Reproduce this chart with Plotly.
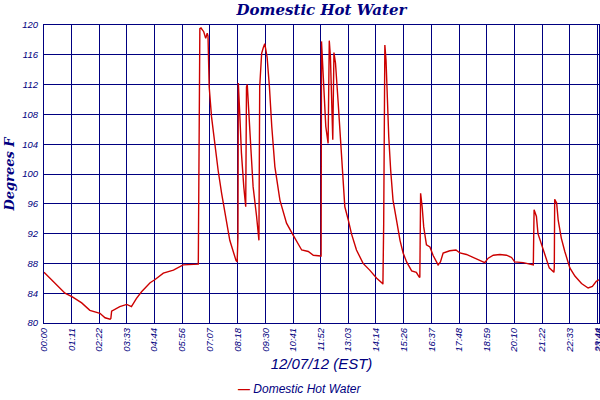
import plotly.graph_objects as go

# Domestic hot water temperature, 12/07/12, minutes after midnight (EST)
minutes = [
    0, 24, 54, 73, 97, 118, 144, 157, 170, 172, 174, 195, 213, 225, 238, 251,
    273, 285, 307, 333, 358, 397, 399, 401, 404, 411, 416, 420, 422, 425, 431,
    440, 448, 457, 466, 478, 494, 497, 499, 500, 504, 508, 514, 519, 521, 523,
    532, 538, 547, 553, 555, 560, 564, 568, 574, 580, 586, 594, 607, 624, 641,
    663, 680, 693, 712, 713, 714, 718, 725, 731, 734, 737, 742, 743, 746, 750,
    757, 763, 768, 774, 783, 791, 804, 821, 838, 856, 871, 872, 874, 877, 880,
    883, 887, 892, 898, 907, 916, 924, 933, 946, 958, 965, 967, 969, 973, 977,
    984, 993, 1001, 1014, 1020, 1027, 1044, 1060, 1070, 1087, 1100, 1117, 1134,
    1143, 1156, 1173, 1190, 1203, 1211, 1233, 1254, 1259, 1261, 1267, 1271,
    1280, 1289, 1300, 1312, 1313, 1314, 1319, 1323, 1331, 1340, 1353, 1366,
    1383, 1400, 1411, 1421, 1428,
]
temps = [
    86.8, 85.5, 84.0, 83.5, 82.7, 81.7, 81.3, 80.7, 80.5, 80.6, 81.6, 82.2,
    82.5, 82.2, 83.3, 84.2, 85.4, 85.8, 86.7, 87.1, 87.8, 87.9, 110.2, 119.5,
    119.6, 119.1, 118.2, 118.9, 118.5, 111.7, 107.7, 103.7, 100.5, 97.4, 94.7,
    91.1, 88.4, 88.2, 91.5, 112.2, 107.7, 102.8, 98.3, 95.6, 111.7, 112.0,
    103.7, 98.3, 94.3, 91.1, 111.7, 116.2, 116.9, 117.5, 115.7, 111.7, 106.4,
    101.0, 96.5, 93.4, 91.8, 89.8, 89.6, 89.1, 89.0, 89.0, 117.8, 113.7, 106.4,
    104.1, 117.9, 115.7, 108.1, 104.6, 116.3, 114.9, 109.5, 105.0, 100.1, 95.6,
    93.8, 92.0, 89.8, 88.0, 87.1, 86.0, 85.3, 85.2, 93.2, 117.3, 115.3, 109.5,
    105.0, 100.5, 96.5, 93.8, 91.1, 89.4, 88.2, 87.0, 86.8, 86.2, 86.1, 97.4,
    95.6, 92.9, 90.5, 90.2, 89.1, 87.8, 88.2, 89.4, 89.7, 89.8, 89.4, 89.2,
    88.9, 88.4, 88.1, 88.7, 89.1, 89.2, 89.1, 88.8, 88.2, 88.1, 87.8, 87.8,
    95.2, 94.3, 92.0, 90.5, 88.9, 87.4, 86.8, 87.5, 96.6, 96.1, 93.8, 91.4,
    89.6, 87.4, 86.3, 85.3, 84.7, 84.9, 85.6, 85.8,
]

x_tick_labels = [
    "00:00", "01:11", "02:22", "03:33", "04:44", "05:56", "07:07", "08:18",
    "09:30", "10:41", "11:52", "13:03", "14:14", "15:26", "16:37", "17:48",
    "18:59", "20:10", "21:22", "22:33", "23:44", "23:48",
]
y_ticks = [80, 84, 88, 92, 96, 100, 104, 108, 112, 116, 120]


def to_minutes(label):
    h, m = label.split(":")
    return int(h) * 60 + int(m)


x_tick_vals = [to_minutes(t) for t in x_tick_labels]

NAVY = "#000080"
RED = "#cc0000"

fig = go.Figure()
fig.add_trace(
    go.Scatter(
        x=minutes,
        y=temps,
        mode="lines",
        line={"color": RED, "width": 1.4},
        name="Domestic Hot Water",
        showlegend=False,
    )
)

fig.update_layout(
    width=600,
    height=400,
    margin={"l": 44, "r": 1, "t": 25, "b": 77},
    paper_bgcolor="white",
    plot_bgcolor="white",
    title={
        "text": "<b><i>Domestic Hot Water</i></b>",
        "x": 0.5,
        "xref": "paper",
        "xanchor": "center",
        "y": 0.975,
        "yanchor": "middle",
        "font": {"family": "DejaVu Serif", "size": 15, "color": NAVY},
    },
    xaxis={
        "range": [0, x_tick_vals[-1]],
        "tickmode": "array",
        "tickvals": x_tick_vals,
        "ticktext": [f"<i>{t}</i>" for t in x_tick_labels],
        "tickangle": -90,
        "tickfont": {"family": "Liberation Sans", "size": 9.5, "color": NAVY},
        "ticklabeloverflow": "allow",
        "showgrid": True,
        "gridcolor": NAVY,
        "gridwidth": 1.2,
        "showline": True,
        "linecolor": NAVY,
        "linewidth": 1.2,
        "mirror": True,
        "zeroline": False,
        "ticks": "",
        "title": {
            "text": "<i>12/07/12 (EST)</i>",
            "font": {"family": "Liberation Sans", "size": 15, "color": NAVY},
            "standoff": 6,
        },
        "automargin": False,
    },
    yaxis={
        "range": [80, 120],
        "tickmode": "array",
        "tickvals": y_ticks,
        "ticktext": [f"<i>{v}</i>" for v in y_ticks],
        "tickfont": {"family": "Liberation Sans", "size": 9.5, "color": NAVY},
        "showgrid": True,
        "gridcolor": NAVY,
        "gridwidth": 1.2,
        "showline": True,
        "linecolor": NAVY,
        "linewidth": 1.2,
        "mirror": True,
        "zeroline": False,
        "ticks": "",
        "ticklabelstandoff": 3,
        "title": {
            "text": "<b><i>Degrees F</i></b>",
            "font": {"family": "DejaVu Serif", "size": 13, "color": NAVY},
            "standoff": 4,
        },
        "automargin": False,
    },
    annotations=[
        {
            "text": f"<span style='color:{RED}'><b>—</b></span> <i>Domestic Hot Water</i>",
            "xref": "paper",
            "yref": "paper",
            "x": 0.461,
            "y": -0.2215,
            "xanchor": "center",
            "yanchor": "middle",
            "showarrow": False,
            "font": {"family": "Liberation Sans", "size": 12, "color": NAVY},
        }
    ],
)

# drop the browser's default body margin so the 600x400 figure fills the window
fig.write_html(
    "out.html",
    config={"displayModeBar": False},
    post_script="document.body.style.margin = '0';",
)
